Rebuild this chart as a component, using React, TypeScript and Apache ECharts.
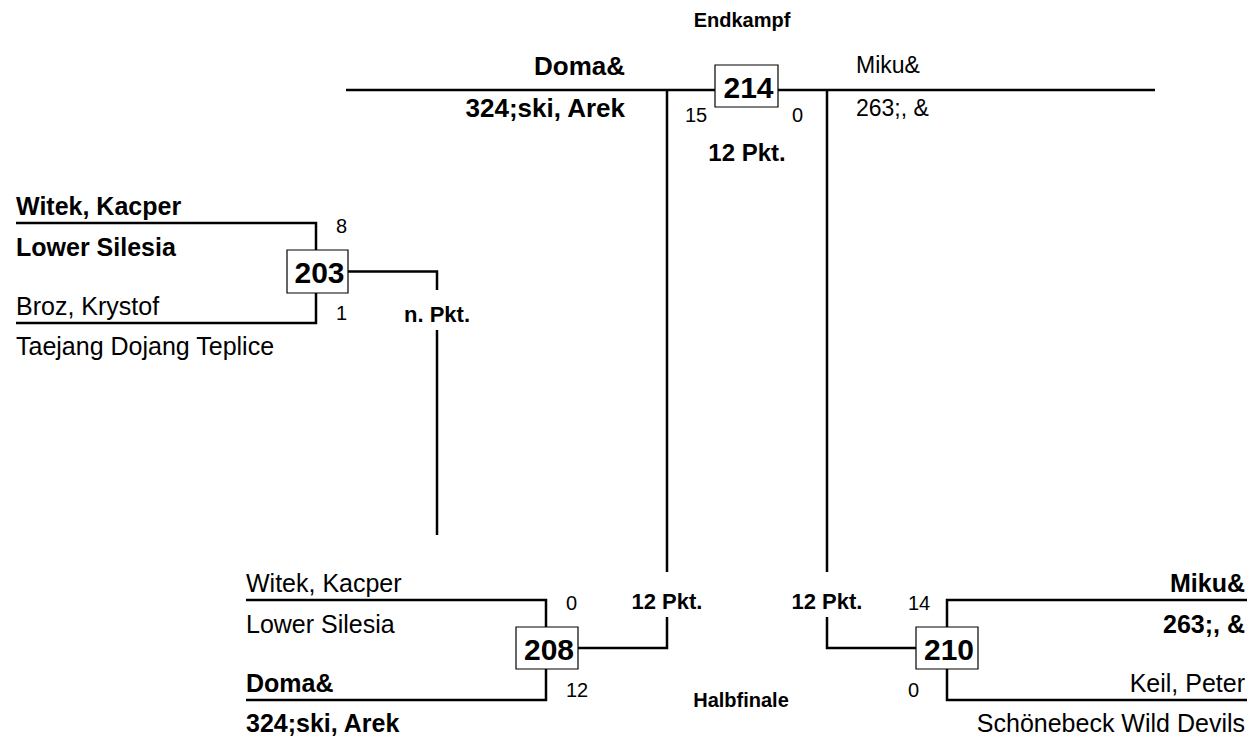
import React, { useEffect, useRef } from 'react';
import * as echarts from 'echarts';

// ---------- data ----------
const roundTitles = ['Endkampf', 'Halbfinale'];
const matchNumbers = ['203', '208', '210', '214'];
const topNames = ['Witek, Kacper', 'Witek, Kacper', 'Miku&', 'Doma&'];
const topClubs = ['Lower Silesia', 'Lower Silesia', '263;, &', '324;ski, Arek'];
const bottomNames = ['Broz, Krystof', 'Doma&', 'Keil, Peter', 'Miku&'];
const bottomClubs = ['Taejang Dojang Teplice', '324;ski, Arek', 'Schönebeck Wild Devils', '263;, &'];
const topScores = [8, 0, 14, 15];
const bottomScores = [1, 12, 0, 0];
const resultLabels = ['n. Pkt.', '12 Pkt.', '12 Pkt.', '12 Pkt.'];

// ---------- layout (value space of the hidden axes) ----------
const W = 1252;
const H = 739;
const FONT = 'Liberation Sans';
const LW = 2.5;

const titleLayout = [
  { x: 742, y: 20 },
  { x: 741, y: 700 },
];

const matchLayout: any[] = [
  { kind: 'left', x0: 16, x1: 316, yTop: 223, yBot: 323, box: [287, 250, 348, 293], outX: 437, outTo: 535, labelY: 314, gapA: 290, gapB: 330 },
  { kind: 'left', x0: 246, x1: 546, yTop: 600, yBot: 700, box: [516, 627, 578, 669], outX: 667, outTo: 90, labelY: 601, gapA: 617, gapB: 572 },
  { kind: 'right', x0: 947, x1: 1247, yTop: 600, yBot: 700, box: [916, 627, 978, 669], outX: 827, outTo: 90, labelY: 601, gapA: 617, gapB: 572 },
  { kind: 'final', x0: 346, x1: 1155, y: 90, box: [715, 65, 778, 107], leftX: 625, rightX: 856, scoreL: 685, scoreR: 803, scoreY: 115, labelX: 747, labelY: 152 },
];

function makeText(api: any, x: number, y: number, text: string, size: number, bold: boolean, align: string) {
  const p = api.coord([x, y]);
  return {
    type: 'text',
    style: {
      text,
      x: p[0],
      y: p[1],
      fill: '#000',
      fontSize: size,
      fontWeight: bold ? 'bold' : 'normal',
      fontFamily: FONT,
      textAlign: align,
      textVerticalAlign: 'middle',
      align,
      verticalAlign: 'middle',
    },
  };
}

function makePoly(api: any, pts: number[][], width = LW) {
  return {
    type: 'polyline',
    shape: { points: pts.map((q) => api.coord(q)) },
    style: { stroke: '#000', fill: null, lineWidth: width },
  };
}

function makeBox(api: any, b: number[]) {
  const a = api.coord([b[0], b[1]]);
  const c = api.coord([b[2], b[3]]);
  return {
    type: 'rect',
    shape: { x: a[0], y: a[1], width: c[0] - a[0], height: c[1] - a[1] },
    style: { fill: '#fff', stroke: '#000', lineWidth: 1.2 },
  };
}

function renderMatch(params: any, api: any) {
  const i = params.dataIndex;
  const L = matchLayout[i];
  const b = L.box;
  const cy = (b[1] + b[3]) / 2;
  const cx = (b[0] + b[2]) / 2 + 2;
  const topWins = topScores[i] > bottomScores[i];
  const children: any[] = [];

  if (L.kind === 'final') {
    children.push(makePoly(api, [[L.x0, L.y], [L.x1, L.y]]));
    children.push(makeBox(api, b));
    children.push(makeText(api, cx, cy + 1, matchNumbers[i], 30, true, 'center'));
    const szL = topWins ? 26 : 23;
    const szR = topWins ? 23 : 26;
    children.push(makeText(api, L.leftX, L.y - 24, topNames[i], szL, topWins, 'right'));
    children.push(makeText(api, L.leftX, L.y + 18, topClubs[i], szL, topWins, 'right'));
    children.push(makeText(api, L.rightX, L.y - 25, bottomNames[i], szR, !topWins, 'left'));
    children.push(makeText(api, L.rightX, L.y + 18, bottomClubs[i], szR, !topWins, 'left'));
    children.push(makeText(api, L.scoreL, L.scoreY, String(topScores[i]), 20, false, 'left'));
    children.push(makeText(api, L.scoreR, L.scoreY, String(bottomScores[i]), 20, false, 'right'));
    children.push(makeText(api, L.labelX, L.labelY, resultLabels[i], 24, true, 'center'));
    return { type: 'group', children };
  }

  const isLeft = L.kind === 'left';
  const vx = isLeft ? L.x1 : L.x0;
  const outer = isLeft ? L.x0 : L.x1;
  const boxSide = isLeft ? b[2] : b[0];

  // bracket lines
  children.push(makePoly(api, [[outer, L.yTop], [vx, L.yTop], [vx, b[1]]]));
  children.push(makePoly(api, [[vx, b[3]], [vx, L.yBot], [outer, L.yBot]]));
  // winner connector
  children.push(makePoly(api, [[boxSide, cy], [L.outX, cy], [L.outX, L.gapA]]));
  children.push(makePoly(api, [[L.outX, L.gapB], [L.outX, L.outTo]]));
  children.push(makeText(api, L.outX, L.labelY, resultLabels[i], 22, true, 'center'));

  children.push(makeBox(api, b));
  children.push(makeText(api, cx, cy + 1, matchNumbers[i], 30, true, 'center'));

  const nameX = isLeft ? L.x0 : L.x1 - 2;
  const align = isLeft ? 'left' : 'right';
  children.push(makeText(api, nameX, L.yTop - 17, topNames[i], 25, topWins, align));
  children.push(makeText(api, nameX, L.yTop + 24, topClubs[i], 25, topWins, align));
  children.push(makeText(api, nameX, L.yBot - 17, bottomNames[i], 25, !topWins, align));
  children.push(makeText(api, nameX, L.yBot + 23, bottomClubs[i], 25, !topWins, align));

  const sx = isLeft ? L.x1 + 20 : L.x0 - 39;
  children.push(makeText(api, sx, L.yTop + 3, String(topScores[i]), 20, false, 'left'));
  children.push(makeText(api, sx, L.yBot - 10, String(bottomScores[i]), 20, false, 'left'));

  return { type: 'group', children };
}

function renderTitle(params: any, api: any) {
  const i = params.dataIndex;
  const t = titleLayout[i];
  return makeText(api, t.x, t.y, roundTitles[i], 20, true, 'center');
}

export default function App() {
  const ref = useRef<HTMLDivElement>(null);
  useEffect(() => {
    if (!ref.current) return;
    const chart = echarts.init(ref.current, null, { renderer: 'svg' });
    chart.setOption({
      animation: false,
      backgroundColor: '#fff',
      grid: { left: 0, right: 0, top: 0, bottom: 0 },
      xAxis: { type: 'value', min: 0, max: W, show: false },
      yAxis: { type: 'value', min: 0, max: H, inverse: true, show: false },
      series: [
        {
          type: 'custom',
          clip: false,
          silent: true,
          renderItem: renderMatch,
          data: matchNumbers.map((_, i) => [i, i]),
        },
        {
          type: 'custom',
          clip: false,
          silent: true,
          renderItem: renderTitle,
          data: roundTitles.map((_, i) => [i, i]),
        },
      ],
    });
    return () => chart.dispose();
  }, []);
  return (
    <div
      ref={ref}
      style={{ position: 'fixed', left: 0, top: 0, width: W, height: H, background: '#fff' }}
    />
  );
}
